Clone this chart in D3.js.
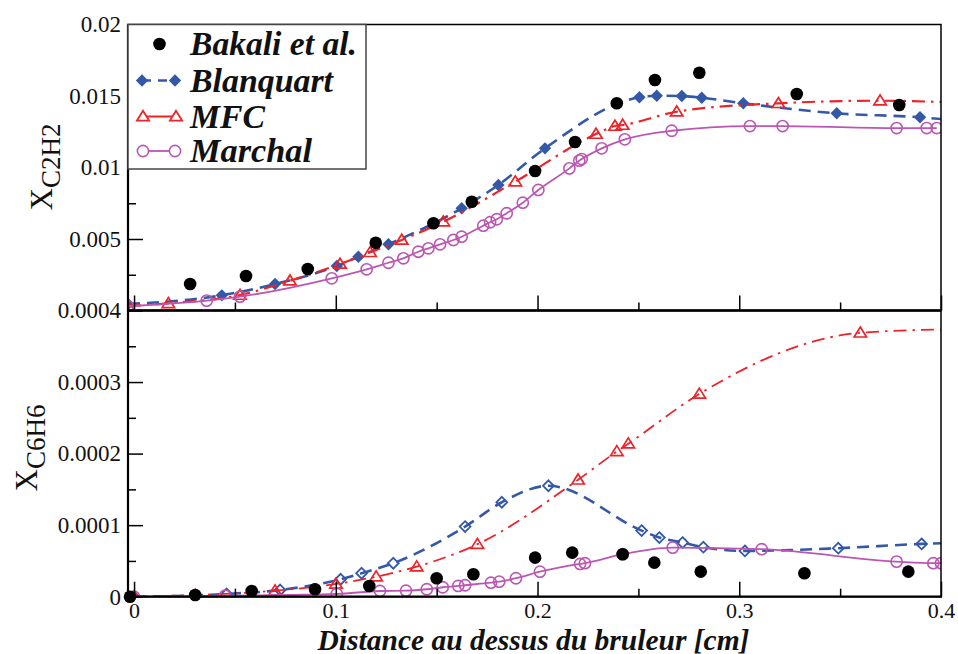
<!DOCTYPE html>
<html>
<head>
<meta charset="utf-8">
<script src="https://cdn.jsdelivr.net/npm/d3@7"></script>
<style>
  html, body { margin: 0; padding: 0; background: #fff; }
  svg { display: block; }
</style>
</head>
<body>
<svg id="chart" width="958" height="654"></svg>
<script>
// ---------------- DATA ----------------
const seriesNames = ["Bakali et al.", "Blanquart", "MFC", "Marchal"];

const xTickValues = [0, 0.1, 0.2, 0.3, 0.4];
const xTickLabels = ["0", "0.1", "0.2", "0.3", "0.4"];
const topYTickValues = [0.005, 0.01, 0.015, 0.02];
const topYTickLabels = ["0.005", "0.01", "0.015", "0.02"];
const botYTickValues = [0, 0.0001, 0.0002, 0.0003, 0.0004];
const botYTickLabels = ["0", "0.0001", "0.0002", "0.0003", "0.0004"];

// ---- Top panel: X_C2H2 ----
const bakaliC2H2_x = [0.0278, 0.0555, 0.0861, 0.1198, 0.1484, 0.1674, 0.1988, 0.2186, 0.2393, 0.2582, 0.2802, 0.3285, 0.3793];
const bakaliC2H2_y = [0.00185, 0.00241, 0.0029, 0.00474, 0.0061, 0.0076, 0.00976, 0.01178, 0.01449, 0.01612, 0.01663, 0.01514, 0.01437];

const blanquartC2H2_x = [-0.003, 0.0435, 0.0699, 0.1005, 0.1112, 0.1261, 0.1624, 0.1806, 0.2037, 0.2505, 0.2591, 0.2715, 0.2814, 0.302, 0.3483, 0.3896, 0.4];
const blanquartC2H2_y = [0.00045, 0.00106, 0.00185, 0.00311, 0.00376, 0.00463, 0.00715, 0.00878, 0.01134, 0.01491, 0.01502, 0.0150, 0.01488, 0.01449, 0.01379, 0.01351, 0.01339];
const blanquartC2H2_marker = [true, true, true, true, true, true, true, true, true, true, true, true, true, true, true, true, false];

const mfcC2H2_x = [-0.003, 0.017, 0.0525, 0.0773, 0.1021, 0.117, 0.1327, 0.1533, 0.189, 0.229, 0.2384, 0.2422, 0.269, 0.3194, 0.3698, 0.4];
const mfcC2H2_y = [0.0003, 0.0005, 0.00108, 0.00208, 0.00325, 0.00407, 0.00493, 0.00621, 0.00901, 0.01234, 0.0129, 0.01297, 0.0139, 0.01449, 0.01467, 0.01458];
const mfcC2H2_marker = [true, true, true, true, true, true, true, true, true, true, true, true, true, true, true, false];

const marchalC2H2_x = [-0.003, 0.036, 0.0525, 0.098, 0.1153, 0.1261, 0.1335, 0.1409, 0.1459, 0.1517, 0.1583, 0.1624, 0.1731, 0.1765, 0.1798, 0.1847, 0.1927, 0.2004, 0.2158, 0.2207, 0.2219, 0.2318, 0.2433, 0.2665, 0.3053, 0.3215, 0.378, 0.3929, 0.3979];
const marchalC2H2_y = [0.0003, 0.00069, 0.00097, 0.00225, 0.00288, 0.00334, 0.00365, 0.00411, 0.00435, 0.00463, 0.00493, 0.00516, 0.00593, 0.00617, 0.00638, 0.0068, 0.00754, 0.00843, 0.00994, 0.01048, 0.01059, 0.01134, 0.01197, 0.01257, 0.0129, 0.0129, 0.01276, 0.01276, 0.01276];

// ---- Bottom panel: X_C6H6 ----
const bakaliC6H6_x = [-0.002, 0.0303, 0.0583, 0.0897, 0.1166, 0.15, 0.1682, 0.1988, 0.2172, 0.2422, 0.2579, 0.2809, 0.3323, 0.3838];
const bakaliC6H6_y = [0.0, 0.0000023, 0.000008, 0.0000104, 0.000015, 0.0000257, 0.0000313, 0.0000546, 0.0000616, 0.0000594, 0.0000476, 0.000035, 0.0000328, 0.000035];

const blanquartC6H6_x = [0, 0.0459, 0.0724, 0.1024, 0.1128, 0.1285, 0.1641, 0.1823, 0.2054, 0.2516, 0.2604, 0.2719, 0.2822, 0.3028, 0.3491, 0.3904, 0.4];
const blanquartC6H6_y = [0.0, 0.0000038, 0.0000094, 0.0000244, 0.0000328, 0.0000468, 0.000098, 0.000132, 0.000155, 0.0000924, 0.0000826, 0.0000756, 0.0000692, 0.000064, 0.0000678, 0.0000738, 0.0000748];
const blanquartC6H6_marker = [true, true, true, true, true, true, true, true, true, true, true, true, true, true, true, true, false];

const mfcC6H6_x = [0, 0.0303, 0.0699, 0.1001, 0.12, 0.1401, 0.1702, 0.2201, 0.2393, 0.245, 0.2802, 0.36, 0.4];
const mfcC6H6_y = [0.0, 0.0000023, 0.0000084, 0.0000178, 0.000028, 0.000042, 0.0000734, 0.0001634, 0.000203, 0.0002138, 0.0002834, 0.0003688, 0.0003734];
const mfcC6H6_marker = [true, true, true, true, true, true, true, true, true, true, true, true, false];

const marchalC6H6_x = [0, 0.0451, 0.1005, 0.1219, 0.1348, 0.1451, 0.153, 0.1607, 0.1641, 0.1769, 0.181, 0.1893, 0.2012, 0.2211, 0.2235, 0.2422, 0.267, 0.3111, 0.378, 0.3962, 0.4];
const marchalC6H6_y = [0.0, 0.0000014, 0.0000038, 0.000008, 0.0000084, 0.0000104, 0.0000132, 0.000015, 0.000016, 0.0000196, 0.000021, 0.0000258, 0.000035, 0.0000458, 0.0000468, 0.0000594, 0.0000686, 0.0000664, 0.000049, 0.0000468, 0.0000468];

// ---------------- STYLE ----------------
const COL_BLUE = "#3458a8";
const COL_RED = "#ee2229";
const COL_PURPLE = "#bb57b2";
const SERIF = "'Liberation Serif', 'Times New Roman', Times, 'DejaVu Serif', serif";

const svg = d3.select("#chart");

const L = 128, R = 941;
const topT = 24.5, mid = 310.5, botB = 596.7;

const x = d3.scaleLinear().domain([-0.003, 0.4]).range([L, R]);
const yTop = d3.scaleLinear().domain([0, 0.02]).range([mid, topT]);
const yBot = d3.scaleLinear().domain([0, 0.0004]).range([botB, mid]);

// clip paths
const defs = svg.append("defs");
defs.append("clipPath").attr("id", "clipTop").append("rect")
  .attr("x", L).attr("y", topT).attr("width", R - L).attr("height", mid - topT);
defs.append("clipPath").attr("id", "clipBot").append("rect")
  .attr("x", L).attr("y", mid).attr("width", R - L).attr("height", botB - mid);

function zip(xs, ys, ms) {
  return xs.map((v, i) => ({ x: v, y: ys[i], m: ms ? ms[i] : true }));
}

const diamondPath = h => `M0,${-h}L${h},0L0,${h}L${-h},0Z`;
const trianglePath = "M0,-5.8L6.2,4.2L-6.2,4.2Z";

function drawSeries(g, yScale, data, opts) {
  if (opts.line) {
    const line = d3.line().x(d => x(d.x)).y(d => yScale(d.y)).curve(d3.curveMonotoneX);
    g.append("path").datum(data)
      .attr("d", line)
      .attr("fill", "none")
      .attr("stroke", opts.color)
      .attr("stroke-width", opts.width)
      .attr("stroke-dasharray", opts.dash || null);
  }
  const pts = data.filter(d => d.m);
  if (opts.marker === "dot") {
    g.selectAll(null).data(pts).enter().append("circle")
      .attr("cx", d => x(d.x)).attr("cy", d => yScale(d.y)).attr("r", 6.3)
      .attr("fill", "#000");
  } else if (opts.marker === "circle") {
    g.selectAll(null).data(pts).enter().append("circle")
      .attr("cx", d => x(d.x)).attr("cy", d => yScale(d.y)).attr("r", 5.6)
      .attr("fill", "none").attr("stroke", opts.color).attr("stroke-width", 1.6);
  } else if (opts.marker === "diamondFilled") {
    g.selectAll(null).data(pts).enter().append("path")
      .attr("transform", d => `translate(${x(d.x)},${yScale(d.y)})`)
      .attr("d", diamondPath(6.2)).attr("fill", opts.color);
  } else if (opts.marker === "diamondOpen") {
    g.selectAll(null).data(pts).enter().append("path")
      .attr("transform", d => `translate(${x(d.x)},${yScale(d.y)})`)
      .attr("d", diamondPath(5.4)).attr("fill", "none")
      .attr("stroke", opts.color).attr("stroke-width", 1.8);
  } else if (opts.marker === "triangle") {
    g.selectAll(null).data(pts).enter().append("path")
      .attr("transform", d => `translate(${x(d.x)},${yScale(d.y)})`)
      .attr("d", trianglePath).attr("fill", "none")
      .attr("stroke", opts.color).attr("stroke-width", 1.7);
  }
}

const dashBlue = "12,7";
const dashRed = "13,6,2.5,6";

// ---- top panel series
const gTop = svg.append("g").attr("clip-path", "url(#clipTop)");
drawSeries(gTop, yTop, zip(blanquartC2H2_x, blanquartC2H2_y, blanquartC2H2_marker), { line: true, color: COL_BLUE, width: 2.6, dash: dashBlue, marker: "diamondFilled" });
drawSeries(gTop, yTop, zip(mfcC2H2_x, mfcC2H2_y, mfcC2H2_marker), { line: true, color: COL_RED, width: 2.2, dash: dashRed, marker: "triangle" });
drawSeries(gTop, yTop, zip(marchalC2H2_x, marchalC2H2_y), { line: true, color: COL_PURPLE, width: 1.8, marker: "circle" });
drawSeries(gTop, yTop, zip(bakaliC2H2_x, bakaliC2H2_y), { line: false, marker: "dot" });

// ---- bottom panel series
const gBot = svg.append("g").attr("clip-path", "url(#clipBot)");
drawSeries(gBot, yBot, zip(blanquartC6H6_x, blanquartC6H6_y, blanquartC6H6_marker), { line: true, color: COL_BLUE, width: 2.6, dash: dashBlue, marker: "diamondOpen" });
drawSeries(gBot, yBot, zip(mfcC6H6_x, mfcC6H6_y, mfcC6H6_marker), { line: true, color: COL_RED, width: 1.8, dash: dashRed, marker: "triangle" });
drawSeries(gBot, yBot, zip(marchalC6H6_x, marchalC6H6_y), { line: true, color: COL_PURPLE, width: 1.8, marker: "circle" });
drawSeries(svg.append("g"), yBot, zip(bakaliC6H6_x, bakaliC6H6_y), { line: false, marker: "dot" });

// ---------------- AXES ----------------
function styleAxis(g) {
  g.select(".domain").remove();
  g.selectAll(".tick line").attr("stroke", "#000").attr("stroke-width", 1.5);
  g.selectAll(".tick text").attr("font-family", SERIF).attr("font-size", 23).attr("fill", "#111");
}

const xMinor = d3.range(0.05, 0.4, 0.1);

// top panel bottom ticks (no labels)
svg.append("g").attr("transform", `translate(0,${mid})`)
  .call(d3.axisBottom(x).tickValues(xTickValues).tickSize(-15).tickFormat(""))
  .call(styleAxis);
svg.append("g").attr("transform", `translate(0,${mid})`)
  .call(d3.axisBottom(x).tickValues(xMinor).tickSize(-8).tickFormat(""))
  .call(styleAxis);

// bottom panel x axis
svg.append("g").attr("transform", `translate(0,${botB})`)
  .call(d3.axisBottom(x).tickValues(xTickValues).tickSize(-15).tickPadding(0)
    .tickFormat((d, i) => xTickLabels[i]))
  .call(styleAxis)
  .call(g => g.selectAll(".tick text").attr("font-size", 22).attr("dy", null)
    .attr("y", 21.5));
svg.append("g").attr("transform", `translate(0,${botB})`)
  .call(d3.axisBottom(x).tickValues(xMinor).tickSize(-8).tickFormat(""))
  .call(styleAxis);

// top y axis
svg.append("g").attr("transform", `translate(${L},0)`)
  .call(d3.axisLeft(yTop).tickValues(topYTickValues).tickSize(-15).tickPadding(7)
    .tickFormat((d, i) => topYTickLabels[i]))
  .call(styleAxis);
svg.append("g").attr("transform", `translate(${L},0)`)
  .call(d3.axisLeft(yTop).tickValues([0.0025, 0.0075, 0.0125, 0.0175]).tickSize(-8).tickFormat(""))
  .call(styleAxis);

// bottom y axis
svg.append("g").attr("transform", `translate(${L},0)`)
  .call(d3.axisLeft(yBot).tickValues(botYTickValues).tickSize(-15).tickPadding(7)
    .tickFormat((d, i) => botYTickLabels[i]))
  .call(styleAxis);
svg.append("g").attr("transform", `translate(${L},0)`)
  .call(d3.axisLeft(yBot).tickValues([0.00005, 0.00015, 0.00025, 0.00035]).tickSize(-8).tickFormat(""))
  .call(styleAxis);

// frames
svg.append("rect").attr("x", L).attr("y", topT).attr("width", R - L).attr("height", mid - topT)
  .attr("fill", "none").attr("stroke", "#000").attr("stroke-width", 1.5);
svg.append("rect").attr("x", L).attr("y", mid).attr("width", R - L).attr("height", botB - mid)
  .attr("fill", "none").attr("stroke", "#000").attr("stroke-width", 1.5);
// thicker left/bottom axis lines
svg.append("line").attr("x1", L).attr("x2", L).attr("y1", topT).attr("y2", botB + 1)
  .attr("stroke", "#000").attr("stroke-width", 2.2);
svg.append("line").attr("x1", L).attr("x2", R).attr("y1", mid).attr("y2", mid)
  .attr("stroke", "#000").attr("stroke-width", 2.6);
svg.append("line").attr("x1", L).attr("x2", R + 1).attr("y1", botB).attr("y2", botB)
  .attr("stroke", "#000").attr("stroke-width", 2.2);

// ---------------- AXIS TITLES ----------------
svg.append("text")
  .attr("x", (L + R) / 2 - 1).attr("y", 649.5)
  .attr("text-anchor", "middle")
  .attr("font-family", SERIF).attr("font-size", 29.5)
  .attr("font-weight", "bold").attr("font-style", "italic")
  .attr("fill", "#111")
  .text("Distance au dessus du bruleur [cm]");

function yTitle(cx, cy, sub) {
  const t = svg.append("text")
    .attr("transform", `translate(${cx},${cy}) rotate(-90)`)
    .attr("text-anchor", "middle")
    .attr("font-family", SERIF).attr("fill", "#111");
  t.append("tspan").attr("font-size", 31).text("X");
  t.append("tspan").attr("font-size", 27).attr("dy", 8).text(sub);
}
yTitle(52, 167, "C2H2");
yTitle(37, 448, "C6H6");

// ---------------- LEGEND ----------------
const lg = svg.append("g");
lg.append("rect").attr("x", L).attr("y", topT).attr("width", 366 - L).attr("height", 169 - topT)
  .attr("fill", "#fff").attr("stroke", "#444").attr("stroke-width", 1.5);

const legendY = [44, 80.5, 116.5, 151];
const legendTextW = [167, 143, 75, 122];
seriesNames.forEach((name, i) => {
  lg.append("text")
    .attr("x", 190).attr("y", legendY[i] + 11)
    .attr("font-family", SERIF).attr("font-size", 33)
    .attr("font-weight", "bold").attr("font-style", "italic")
    .attr("fill", "#111")
    .attr("textLength", legendTextW[i]).attr("lengthAdjust", "spacingAndGlyphs")
    .text(name);
});
// Bakali
lg.append("circle").attr("cx", 159.5).attr("cy", legendY[0]).attr("r", 6.3).attr("fill", "#000");
// Blanquart
lg.append("line").attr("x1", 142).attr("x2", 175).attr("y1", legendY[1]).attr("y2", legendY[1])
  .attr("stroke", COL_BLUE).attr("stroke-width", 2.6).attr("stroke-dasharray", "9,7");
[142, 175].forEach(px => lg.append("path").attr("transform", `translate(${px},${legendY[1]})`)
  .attr("d", diamondPath(6.2)).attr("fill", COL_BLUE));
// MFC
lg.append("line").attr("x1", 143).attr("x2", 176).attr("y1", legendY[2]).attr("y2", legendY[2])
  .attr("stroke", COL_RED).attr("stroke-width", 2.2);
[143, 176].forEach(px => lg.append("path").attr("transform", `translate(${px},${legendY[2]})`)
  .attr("d", trianglePath).attr("fill", "#fff").attr("stroke", COL_RED).attr("stroke-width", 1.7));
// Marchal
lg.append("line").attr("x1", 143).attr("x2", 175).attr("y1", legendY[3]).attr("y2", legendY[3])
  .attr("stroke", COL_PURPLE).attr("stroke-width", 1.8);
[143, 175].forEach(px => lg.append("circle").attr("cx", px).attr("cy", legendY[3]).attr("r", 5.6)
  .attr("fill", "#fff").attr("stroke", COL_PURPLE).attr("stroke-width", 1.6));
</script>
</body>
</html>
